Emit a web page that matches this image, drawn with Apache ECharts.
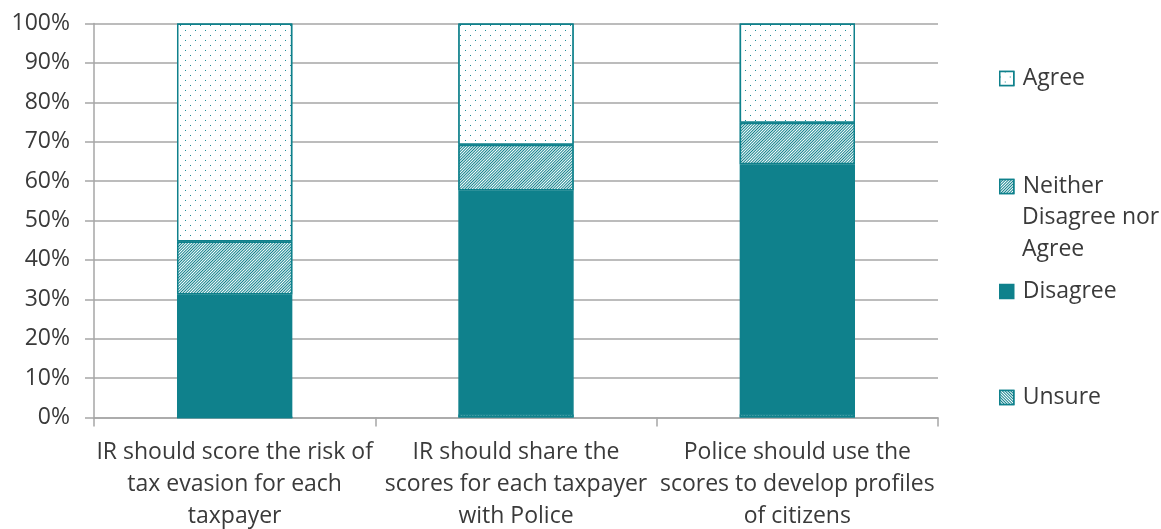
<!DOCTYPE html>
<html><head><meta charset="utf-8">
<script src="https://cdn.jsdelivr.net/npm/echarts@6/dist/echarts.min.js"></script>
<style>html,body{margin:0;padding:0;background:#fff}#c{width:1161px;height:529px}</style>
</head><body><div id="c"></div>
<script>
const categories = [
  'IR should score the risk of\ntax evasion for each\ntaxpayer',
  'IR should share the\nscores for each taxpayer\nwith Police',
  'Police should use the\nscores to develop profiles\nof citizens'
];
const unsure   = [0, 0.8, 0.8];
const disagree = [31.2, 56.8, 63.5];
const neither  = [13.5, 11.6, 10.5];
const agree    = [55.3, 30.8, 25.2];
const yTicks = { min: 0, max: 100, interval: 10 };

const TEAL = '#0F818C';
const FONT = '"Open Sans", sans-serif';
const FS = 23;
const TXT = '#3a3a3a';

const decals = {
  agree: { symbol: 'rect', symbolSize: 1, color: '#1f8a95', backgroundColor: '#fff',
           dashArrayX: [[1, 9], [0, 5, 1, 4]], dashArrayY: [1, 4] },
  neither: { symbol: 'rect', symbolSize: 1, color: TEAL, backgroundColor: '#fff',
             dashArrayX: [1, 0], dashArrayY: [1, 1], rotation: -Math.PI / 4 },
  unsure: { symbol: 'rect', symbolSize: 1, color: TEAL, backgroundColor: '#fff',
            dashArrayX: [1, 0], dashArrayY: [1, 1], rotation: Math.PI / 4 }
};

function mk(name, data, decal) {
  return {
    name, type: 'bar', stack: 'all', data, barWidth: '41%',
    itemStyle: Object.assign({ color: decal ? '#fff' : TEAL, borderColor: TEAL, borderWidth: 1.5 },
      decal ? { decal } : {}),
    emphasis: { disabled: true }
  };
}

function leg(name, top) {
  return {
    data: [name], left: 999, top, orient: 'vertical', icon: 'rect',
    itemWidth: 14, itemHeight: 14, itemGap: 0, padding: 0,
    itemStyle: { borderColor: TEAL, borderWidth: 1.5 },
    textStyle: { fontFamily: FONT, fontSize: FS, color: TXT, padding: [0, 0, 0, 4] },
    formatter: n => n.startsWith('Neither') ? 'Neither' : n,
    selectedMode: false
  };
}

const chart = echarts.init(document.getElementById('c'));
chart.setOption({
  animation: false,
  grid: { left: 94, right: 223, top: 23.5, bottom: 111.5, outerBoundsMode: 'none', containLabel: false },
  legend: [
    leg('Agree', 67),
    leg('Neither Disagree nor Agree', 175),
    leg('Disagree', 280),
    leg('Unsure', 386)
  ],
  graphic: [
    { type: 'text', left: 1022, top: 201, style: { text: 'Disagree nor\nAgree', fontFamily: FONT, fontSize: FS, fill: TXT, lineHeight: 32 } }
  ],
  xAxis: {
    type: 'category', data: categories, boundaryGap: true,
    axisLine: { lineStyle: { color: '#A6A6A6', width: 1.5 } },
    axisTick: { show: true, length: 9, lineStyle: { color: '#A6A6A6', width: 1.5 } },
    axisLabel: { interval: 0, fontFamily: FONT, fontSize: FS, color: TXT, lineHeight: 32, margin: 19 }
  },
  yAxis: {
    type: 'value', min: yTicks.min, max: yTicks.max, interval: yTicks.interval,
    axisLine: { show: true, lineStyle: { color: '#A6A6A6', width: 1.5 } },
    axisTick: { show: true, length: 9, lineStyle: { color: '#A6A6A6', width: 1.5 } },
    splitLine: { lineStyle: { color: '#A6A6A6', width: 1.5 } },
    axisLabel: { formatter: '{value}%', fontFamily: FONT, fontSize: FS, color: TXT, margin: 24 }
  },
  series: [
    mk('Unsure', unsure, decals.unsure),
    mk('Disagree', disagree, null),
    mk('Neither Disagree nor Agree', neither, decals.neither),
    mk('Agree', agree, decals.agree)
  ]
});
</script></body></html>
